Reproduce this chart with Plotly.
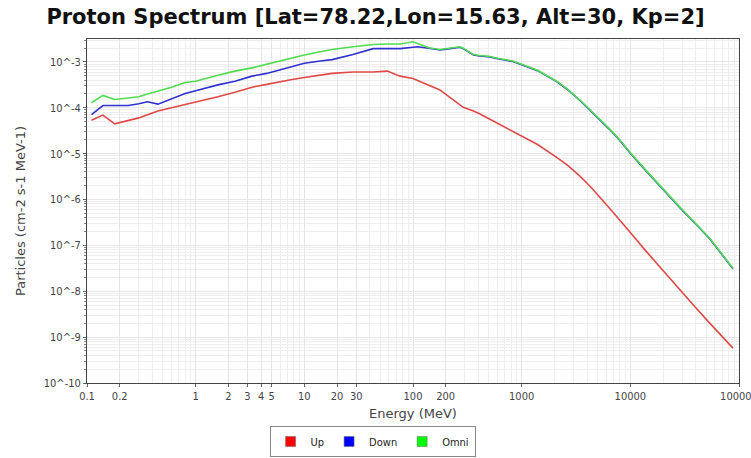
import plotly.graph_objects as go

energy_mev = [0.11, 0.14, 0.18, 0.24, 0.3, 0.36, 0.45, 0.6, 0.8, 1.0, 1.6, 2.3, 3.3, 4.5, 5.7, 7.5,
              10, 14, 18, 28, 43, 58, 76, 100, 110, 140, 177, 220, 270, 290, 360, 410, 510, 600,
              830, 1000, 1400, 2100, 2600, 3400, 4300, 6500, 8000, 10000, 14000, 17600, 23000,
              30000, 38000, 54000, 88000]

log_up = [-4.27, -4.16, -4.35, -4.28, -4.22, -4.15, -4.07, -4.00, -3.93, -3.88, -3.76, -3.66, -3.55,
          -3.49, -3.44, -3.39, -3.34, -3.29, -3.25, -3.22, -3.22, -3.20, -3.31, -3.36, -3.40, -3.50,
          -3.61, -3.78, -3.93, -3.99, -4.07, -4.13, -4.25, -4.34, -4.52, -4.62, -4.80, -5.08, -5.24,
          -5.48, -5.72, -6.20, -6.46, -6.72, -7.13, -7.40, -7.72, -8.02, -8.30, -8.70, -9.24]

log_down = [-4.15, -3.95, -3.95, -3.95, -3.91, -3.87, -3.92, -3.80, -3.69, -3.63, -3.50, -3.42, -3.31,
            -3.25, -3.18, -3.10, -3.03, -2.98, -2.95, -2.84, -2.71, -2.71, -2.71, -2.68, -2.67, -2.70,
            -2.74, -2.71, -2.68, -2.71, -2.85, -2.87, -2.89, -2.93, -2.99, -3.06, -3.19, -3.43, -3.59,
            -3.83, -4.06, -4.48, -4.71, -4.99, -5.38, -5.64, -5.94, -6.23, -6.48, -6.86, -7.51]

log_omni = [-3.89, -3.73, -3.82, -3.79, -3.76, -3.70, -3.64, -3.55, -3.45, -3.42, -3.29, -3.20, -3.13,
            -3.05, -2.99, -2.91, -2.85, -2.78, -2.73, -2.67, -2.62, -2.61, -2.61, -2.56, -2.60, -2.69,
            -2.73, -2.70, -2.67, -2.70, -2.84, -2.86, -2.88, -2.92, -2.98, -3.05, -3.18, -3.42, -3.58,
            -3.82, -4.05, -4.47, -4.70, -4.98, -5.37, -5.63, -5.93, -6.22, -6.47, -6.85, -7.50]

series_names = ["Up", "Down", "Omni"]
line_colors = ["#e04848", "#3030d0", "#50dc50"]
legend_colors = ["#ff0000", "#0000ff", "#00ff00"]

x_tick_vals = [0.1, 0.2, 1, 2, 3, 4, 5, 10, 20, 30, 100, 200, 1000, 10000, 100000]
x_tick_text = ["0.1", "0.2", "1", "2", "3", "4", "5", "10", "20", "30", "100", "200", "1000", "10000", "100000"]
y_exponents = [-10, -9, -8, -7, -6, -5, -4, -3]

fig = go.Figure()
for name, logs, col in zip(series_names, [log_up, log_down, log_omni], line_colors):
    fig.add_trace(go.Scatter(x=energy_mev, y=[10 ** v for v in logs], mode="lines", name=name,
                             line=dict(color=col, width=1.6), showlegend=False))
for name, col in zip(series_names, legend_colors):
    fig.add_trace(go.Scatter(x=[None], y=[None], mode="markers", name=name,
                             marker=dict(symbol="square", size=10, color=col,
                                         line=dict(color="#666", width=0.5))))

minor_x = [m * 10 ** d for d in range(-1, 5) for m in range(2, 10)]
minor_y = [m * 10 ** d for d in range(-10, -2) for m in range(2, 10)]

tick_font = dict(family="DejaVu Sans Condensed, DejaVu Sans", size=11, color="#444")

fig.update_xaxes(type="log", range=[-1, 5], tickvals=x_tick_vals, ticktext=x_tick_text,
                 automargin="bottom", ticklabeloverflow="allow",
                 showline=True, linecolor="#444", linewidth=1, mirror=True,
                 ticks="outside", ticklen=3, tickcolor="#666",
                 showgrid=True, gridcolor="#e6e6e6", gridwidth=1,
                 minor=dict(tickvals=minor_x, showgrid=True, gridcolor="#eeeeee", ticks=""),
                 tickfont=tick_font,
                 title=dict(text="Energy (MeV)", font=dict(family="DejaVu Sans", size=13, color="#444"),
                            standoff=6),
                 zeroline=False)
fig.update_yaxes(type="log", range=[-10, -2.5], tickvals=[10 ** e for e in y_exponents],
                 ticktext=["10^%d" % e for e in y_exponents],
                 automargin="left",
                 showline=True, linecolor="#444", linewidth=1, mirror=True,
                 ticks="outside", ticklen=3, tickcolor="#666",
                 showgrid=True, gridcolor="#e6e6e6", gridwidth=1,
                 minor=dict(tickvals=minor_y, showgrid=True, gridcolor="#eeeeee", ticks="outside",
                            ticklen=2, tickcolor="#888"),
                 tickfont=tick_font,
                 title=dict(text="Particles (cm-2 s-1 MeV-1)",
                            font=dict(family="DejaVu Sans", size=13, color="#444"), standoff=15),
                 zeroline=False)

fig.update_layout(
    width=751, height=458,
    margin=dict(l=87, r=12, t=39, b=75, autoexpand=False),
    paper_bgcolor="white", plot_bgcolor="white",
    title=dict(text="<b>Proton Spectrum [Lat=78.22,Lon=15.63, Alt=30, Kp=2]</b>",
               x=0.5, xanchor="center", y=0.963, yanchor="middle",
               font=dict(family="DejaVu Sans", size=21, color="#111")),
    legend=dict(orientation="h", x=0.438, xanchor="center", y=-0.215, yanchor="bottom",
                bordercolor="#888", borderwidth=1, bgcolor="white",
                font=dict(family="DejaVu Sans Condensed, DejaVu Sans", size=11, color="#222"),
                itemwidth=30, tracegroupgap=0),
)

fig.write_html("out.html", config={"displayModeBar": False},
               post_script="document.body.style.margin='0';")
